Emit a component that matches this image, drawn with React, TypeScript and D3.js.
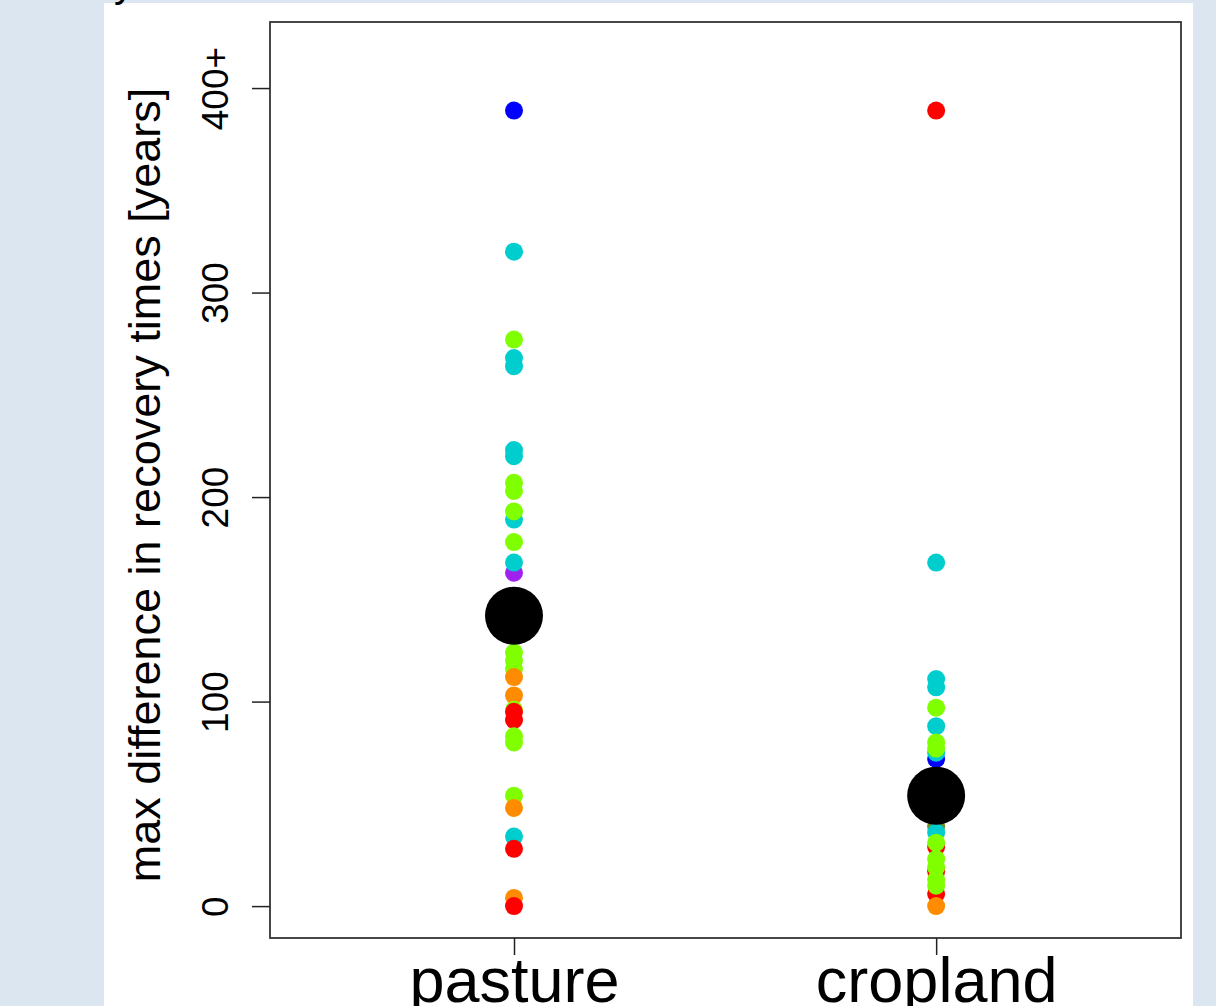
import { useEffect, useRef } from 'react';
import * as d3 from 'd3';

const categories = ['pasture', 'cropland'];
const yTicks = [0, 100, 200, 300, 400];
const yTickLabels = ['0', '100', '200', '300', '400+'];

// colour, value (drawing order matters, later points sit on top)
const pastureColors = ['blue', 'cyan', 'green', 'cyan', 'cyan', 'cyan', 'cyan', 'green', 'green', 'cyan', 'green', 'green', 'purple', 'cyan',
    'green', 'green', 'green', 'orange', 'orange', 'green', 'red', 'red', 'green', 'green', 'green', 'orange', 'cyan', 'red', 'orange', 'red'];
const pastureValues = [389, 320, 277, 268, 264, 223, 220, 207, 203, 189, 193, 178, 163, 168,
    124, 120, 116, 112, 103, 96, 95, 91, 83, 80, 54, 48, 34, 28, 4, 0];

const croplandColors = ['red', 'cyan', 'cyan', 'cyan', 'green', 'cyan', 'blue', 'cyan', 'green', 'green', 'olive', 'cyan', 'red', 'green',
    'green', 'red', 'green', 'green', 'red', 'green', 'orange'];
const croplandValues = [389, 168, 111, 107, 97, 88, 72, 75, 80, 77, 39, 36, 29, 31,
    23, 17, 19, 13, 6, 10, 0];

const means = [142, 54];

const palette = {
    blue: '#0000ff',
    cyan: '#00cdcd',
    green: '#7fff00',
    orange: '#ff8c00',
    red: '#ff0000',
    purple: '#a020f0',
    olive: '#6b8e23',
};

const App = () => {
    const svgRef = useRef(null);
    const width = 1216;
    const height = 1006;
    const box = { left: 270, right: 1181, top: 22, bottom: 938 };

    useEffect(() => {
        const svg = d3.select(svgRef.current);
        svg.selectAll('*').remove();

        svg.append('rect').attr('width', width).attr('height', height).attr('fill', '#dce6f1');
        svg.append('rect').attr('x', 104).attr('y', 3).attr('width', 1089).attr('height', height).attr('fill', '#ffffff');

        // clipped title glyph at the very top
        svg.append('text')
            .attr('x', 114)
            .attr('y', -3)
            .style('font-family', 'Liberation Sans, Arial, sans-serif')
            .style('font-size', '40px')
            .text('y')

        const xScale = d3.scaleLinear()
            .domain([0.422, 2.58])
            .range([box.left, box.right]);

        const yScale = d3.scaleLinear()
            .domain([-15.6, 432.3])
            .range([box.bottom, box.top]);

        const series = [
            pastureValues.map((v, i) => ({ x: 1, v, c: pastureColors[i] })),
            croplandValues.map((v, i) => ({ x: 2, v, c: croplandColors[i] })),
        ];

        const g = svg.append('g');
        g.selectAll('circle.pt')
            .data(series.flat())
            .join('circle')
            .attr('class', 'pt')
            .attr('cx', d => xScale(d.x))
            .attr('cy', d => yScale(d.v))
            .attr('r', 9)
            .attr('fill', d => palette[d.c]);

        g.selectAll('circle.mean')
            .data(means)
            .join('circle')
            .attr('class', 'mean')
            .attr('cx', (d, i) => xScale(i + 1))
            .attr('cy', d => yScale(d))
            .attr('r', 29)
            .attr('fill', '#000');

        svg.append('rect')
            .attr('x', box.left)
            .attr('y', box.top)
            .attr('width', box.right - box.left)
            .attr('height', box.bottom - box.top)
            .attr('fill', 'none')
            .attr('stroke', '#333')
            .attr('stroke-width', 1.8);

        const yAxis = d3.axisLeft(yScale)
            .tickValues(yTicks)
            .tickSize(18)
            .tickFormat((d, i) => yTickLabels[i]);

        const ya = svg.append('g')
            .attr('transform', `translate(${box.left}, 0)`)
            .call(yAxis);
        ya.select('.domain').remove();
        ya.selectAll('line').attr('stroke', '#222').attr('stroke-width', 1.5);
        ya.selectAll('text')
            .attr('transform', 'translate(-42, 0) rotate(-90)')
            .attr('x', 0)
            .attr('y', 0)
            .attr('dy', 0)
            .attr('text-anchor', 'middle')
            .attr('fill', '#000')
            .style('font-family', 'Liberation Sans, Arial, sans-serif')
            .style('font-size', '37px');

        const xAxis = d3.axisBottom(xScale)
            .tickValues([1, 2])
            .tickSize(17)
            .tickFormat((d, i) => categories[i]);

        const xa = svg.append('g')
            .attr('transform', `translate(0, ${box.bottom})`)
            .call(xAxis);
        xa.select('.domain').remove();
        xa.selectAll('line').attr('stroke', '#222').attr('stroke-width', 1.5);
        xa.selectAll('text')
            .attr('y', 64)
            .attr('dy', 0)
            .attr('fill', '#000')
            .style('font-family', 'Liberation Sans, Arial, sans-serif')
            .style('font-size', '63px');

        svg.append('text')
            .attr('transform', `translate(160, ${(box.top + box.bottom) / 2 + 5}) rotate(-90)`)
            .attr('text-anchor', 'middle')
            .style('font-family', 'Liberation Sans, Arial, sans-serif')
            .style('font-size', '45px')
            .text('max difference in recovery times [years]');
    }, []);

    return (
        <svg ref={svgRef} width={width} height={height}
            style={{ position: 'absolute', left: 0, top: 0, display: 'block' }}></svg>
    );
};

export default App;
